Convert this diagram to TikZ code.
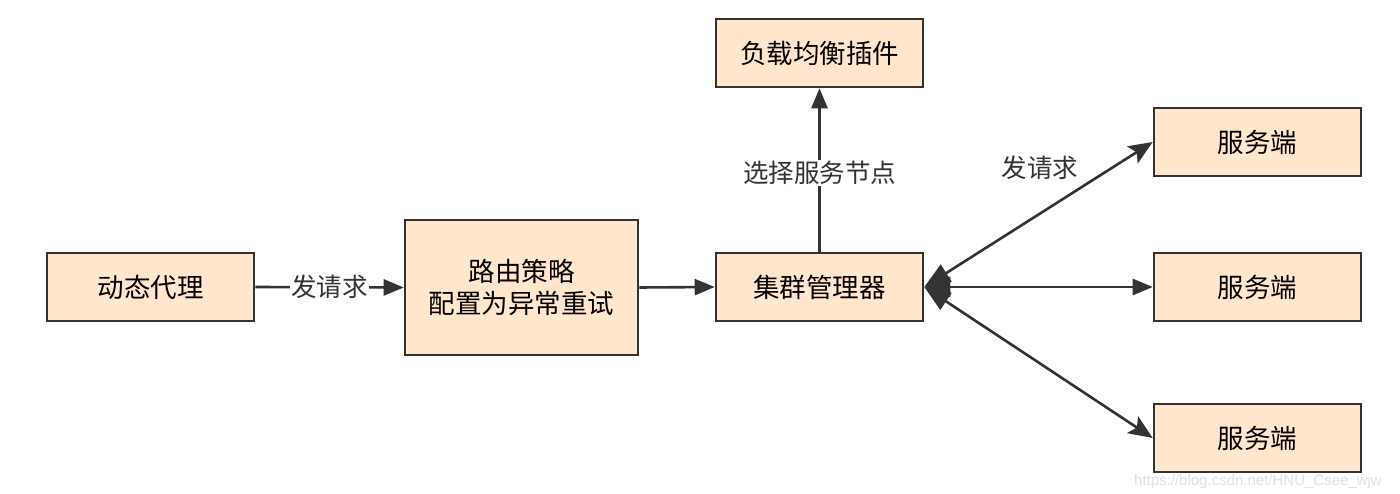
\documentclass[tikz,border=0pt]{standalone}
\usepackage{fontspec}
\setmainfont{Noto Sans CJK SC}
\newfontfamily\wmfont{Liberation Sans}
\usetikzlibrary{arrows.meta}
\definecolor{boxfill}{HTML}{FFE6CC}
\definecolor{boxline}{HTML}{333333}
\begin{document}
\begin{tikzpicture}[x=1pt,y=-1pt,
  box/.style={draw=boxline,fill=boxfill,line width=2.6pt,minimum width=207pt,minimum height=68pt,inner sep=0pt,font=\fontsize{26.5}{32}\selectfont,align=center},
  conn/.style={draw=boxline,line width=2.6pt},
  tipT/.style={-{Triangle[length=20pt,width=16pt]}},
  lbl/.style={font=\fontsize{25.5}{30}\selectfont,text=boxline,fill=white,inner sep=1pt}]
\useasboundingbox (0,0) rectangle (1400,494);
\fill[white] (0,0) rectangle (1400,494);
\node[box] (proxy) at (150.5,287) {动态代理};
\node[box,minimum width=233pt,minimum height=135pt] (route) at (521.5,287.5) {路由策略\\配置为异常重试};
\node[box] (mgr) at (819.5,287) {集群管理器};
\node[box] (lb) at (819.5,53) {负载均衡插件};
\node[box] (s1) at (1257.5,142) {服务端};
\node[box] (s2) at (1257.5,287) {服务端};
\node[box] (s3) at (1257.5,438) {服务端};
\draw[conn,tipT] (proxy.east) -- node[lbl,pos=0.5] {发请求} (route.west);
\draw[conn,tipT] (route.east) -- (mgr.west);
\draw[conn,tipT] (mgr.north) -- node[lbl,pos=0.48] {选择服务节点} (lb.south);
\draw[conn,{Triangle[length=26pt,width=20pt]}-{Stealth[length=24pt,width=20pt,inset=5pt]}] (mgr.east) -- (s1.west);
\draw[conn,{Triangle[length=26pt,width=20pt]}-{Triangle[length=20pt,width=16pt]}] (mgr.east) -- (s2.west);
\draw[conn,{Triangle[length=26pt,width=20pt]}-{Stealth[length=24pt,width=20pt,inset=5pt]}] (mgr.east) -- (s3.west);
\node[font=\fontsize{25.5}{30}\selectfont,text=boxline] (req2) at (1040,168) {发请求};
\node[font=\wmfont\fontsize{15}{18}\selectfont,text=black!12] (wm) at (1258,482) {https://blog.csdn.net/HNU\_Csee\_wjw};
\end{tikzpicture}
\end{document}
